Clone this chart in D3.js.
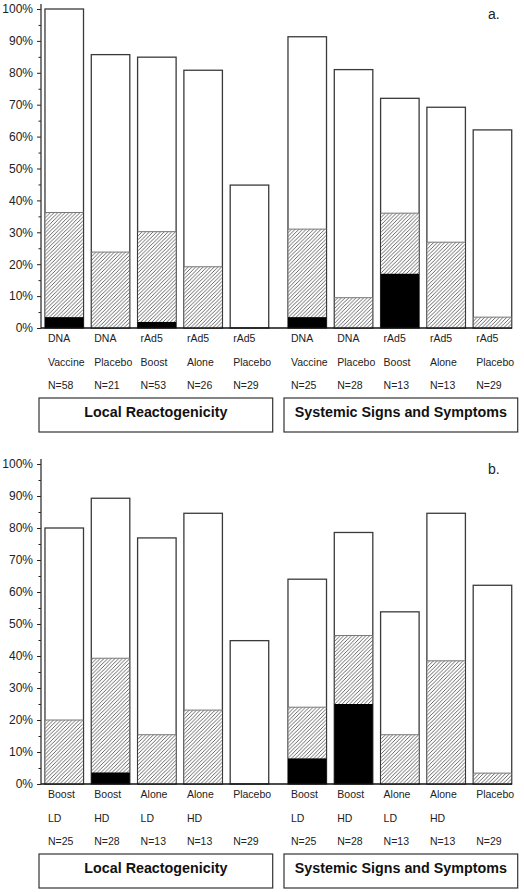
<!DOCTYPE html>
<html>
<head>
<meta charset="utf-8">
<script src="https://cdn.jsdelivr.net/npm/d3@7"></script>
<style>
html,body{margin:0;padding:0;background:#fff;}
svg{display:block;font-family:"Liberation Sans",Arial,Helvetica,sans-serif;}
</style>
</head>
<body>
<svg id="chart" width="524" height="892"></svg>
<script>
// ---- data ----
const groups = ["Local Reactogenicity", "Systemic Signs and Symptoms"];
const yTicks = [0, 10, 20, 30, 40, 50, 60, 70, 80, 90, 100];

// Panel a
const aLine1 = ["DNA", "DNA", "rAd5", "rAd5", "rAd5"];
const aLine2 = ["Vaccine", "Placebo", "Boost", "Alone", "Placebo"];
const aLocalN = ["N=58", "N=21", "N=53", "N=26", "N=29"];
const aSystemicN = ["N=25", "N=28", "N=13", "N=13", "N=29"];
const aLocalAny = [100, 85.7, 84.9, 80.8, 44.8];
const aLocalModerate = [36.2, 23.8, 30.2, 19.2, 0];
const aLocalSevere = [3.4, 0, 1.9, 0, 0];
const aSystemicAny = [91.3, 81, 72, 69.2, 62.1];
const aSystemicModerate = [31, 9.5, 36, 26.9, 3.4];
const aSystemicSevere = [3.4, 0, 17, 0, 0];

// Panel b
const bLine1 = ["Boost", "Boost", "Alone", "Alone", "Placebo"];
const bLine2 = ["LD", "HD", "LD", "HD", ""];
const bLocalN = ["N=25", "N=28", "N=13", "N=13", "N=29"];
const bSystemicN = ["N=25", "N=28", "N=13", "N=13", "N=29"];
const bLocalAny = [80, 89.3, 76.9, 84.6, 44.8];
const bLocalModerate = [20, 39.3, 15.4, 23.1, 0];
const bLocalSevere = [0, 3.6, 0, 0, 0];
const bSystemicAny = [64, 78.6, 53.8, 84.6, 62.1];
const bSystemicModerate = [24, 46.4, 15.4, 38.5, 3.4];
const bSystemicSevere = [8, 25, 0, 0, 0];

// ---- build ----
const svg = d3.select("#chart");
const defs = svg.append("defs");
const pat = defs.append("pattern")
  .attr("id", "hatch").attr("patternUnits", "userSpaceOnUse")
  .attr("width", 3.7).attr("height", 3.7);
pat.append("rect").attr("width", 3.7).attr("height", 3.7).attr("fill", "#fff");
pat.append("path")
  .attr("d", "M-1,1 L1,-1 M0,3.7 L3.7,0 M2.7,4.7 L4.7,2.7")
  .attr("stroke", "#333").attr("stroke-width", 0.75);

const font = "\"Liberation Sans\",Arial,Helvetica,sans-serif";

const xGroup = d3.scaleBand().domain(groups).range([41, 515.7]).paddingInner(0.0465).paddingOuter(0);
const xBar = d3.scaleBand().domain(d3.range(5)).range([0, xGroup.bandwidth()])
  .paddingInner(0.168).paddingOuter(0.086);

const panels = [
  { label: "a.", y0: 328, y1: 9,
    line1: aLine1, line2: aLine2,
    series: [
      { n: aLocalN, any: aLocalAny, mod: aLocalModerate, sev: aLocalSevere },
      { n: aSystemicN, any: aSystemicAny, mod: aSystemicModerate, sev: aSystemicSevere }
    ] },
  { label: "b.", y0: 784, y1: 464,
    line1: bLine1, line2: bLine2,
    series: [
      { n: bLocalN, any: bLocalAny, mod: bLocalModerate, sev: bLocalSevere },
      { n: bSystemicN, any: bSystemicAny, mod: bSystemicModerate, sev: bSystemicSevere }
    ] }
];

panels.forEach(p => {
  const y = d3.scaleLinear().domain([0, 100]).range([p.y0, p.y1]);
  const g = svg.append("g");

  // y axis: major ticks with labels
  const ax = g.append("g").attr("transform", "translate(41,0)")
    .call(d3.axisLeft(y).tickValues(yTicks).tickFormat(d => d + "%").tickSize(4).tickPadding(4).tickSizeOuter(0));
  ax.select(".domain").remove();
  ax.selectAll(".tick line").attr("stroke", "#222").attr("stroke-width", 1);
  ax.selectAll(".tick text").attr("font-size", 12).attr("font-family", font).attr("fill", "#222");
  // minor ticks
  const ax2 = g.append("g").attr("transform", "translate(41,0)")
    .call(d3.axisLeft(y).tickValues(d3.range(5, 100, 10)).tickFormat("").tickSize(2.5).tickSizeOuter(0));
  ax2.select(".domain").remove();
  ax2.selectAll(".tick line").attr("stroke", "#222").attr("stroke-width", 1);
  // axis line
  g.append("line").attr("x1", 41).attr("x2", 41).attr("y1", y(0)).attr("y2", y(100) - 5)
    .attr("stroke", "#333").attr("stroke-width", 1.3);

  p.series.forEach((s, gi) => {
    const gx = xGroup(groups[gi]);
    const gg = g.append("g").attr("transform", `translate(${gx},0)`);
    const idx = d3.range(5);
    // total bars
    gg.selectAll("rect.any").data(idx).join("rect")
      .attr("x", i => xBar(i)).attr("width", xBar.bandwidth())
      .attr("y", i => y(s.any[i])).attr("height", i => y(0) - y(s.any[i]))
      .attr("fill", "#fff").attr("stroke", "#3a3a3a").attr("stroke-width", 1.3);
    // moderate (hatched)
    gg.selectAll("rect.mod").data(idx.filter(i => s.mod[i] > 0)).join("rect")
      .attr("x", i => xBar(i) + 0.6).attr("width", xBar.bandwidth() - 1.2)
      .attr("y", i => y(s.mod[i])).attr("height", i => y(0) - y(s.mod[i]))
      .attr("fill", "url(#hatch)");
    gg.selectAll("line.mod").data(idx.filter(i => s.mod[i] > 0)).join("line")
      .attr("x1", i => xBar(i)).attr("x2", i => xBar(i) + xBar.bandwidth())
      .attr("y1", i => y(s.mod[i])).attr("y2", i => y(s.mod[i]))
      .attr("stroke", "#777").attr("stroke-width", 1);
    // severe (black)
    gg.selectAll("rect.sev").data(idx.filter(i => s.sev[i] > 0)).join("rect")
      .attr("x", i => xBar(i)).attr("width", xBar.bandwidth())
      .attr("y", i => y(s.sev[i])).attr("height", i => y(0) - y(s.sev[i]))
      .attr("fill", "#000");
    // labels
    const lab = gg.selectAll("g.lab").data(idx).join("g")
      .attr("transform", i => `translate(${xBar(i) + 3},${y(0)})`)
      .attr("font-size", 10.5).attr("font-family", font).attr("fill", "#222");
    lab.append("text").attr("y", 14).text(i => p.line1[i]);
    lab.append("text").attr("y", 37.5).text(i => p.line2[i]);
    lab.append("text").attr("y", 61).text(i => s.n[i]);
    // group box
    const bx0 = gi === 0 ? -2 : 0;
    const bx1 = gi === 0 ? xGroup.bandwidth() : xGroup.bandwidth() + 2;
    gg.append("rect").attr("x", bx0).attr("width", bx1 - bx0)
      .attr("y", y(0) + 70).attr("height", 34)
      .attr("fill", "none").attr("stroke", "#333").attr("stroke-width", 1.2);
    gg.append("text").attr("x", (bx0 + bx1) / 2).attr("y", y(0) + 70 + 19)
      .attr("text-anchor", "middle").attr("font-size", 14.3).attr("font-weight", "bold")
      .attr("font-family", font).attr("fill", "#111").text(groups[gi]);
  });

  // x baseline
  g.append("line").attr("x1", 41).attr("x2", 512).attr("y1", y(0)).attr("y2", y(0))
    .attr("stroke", "#111").attr("stroke-width", 1.3);

  // panel label
  g.append("text").attr("x", 488).attr("y", y(100) + 10)
    .attr("font-size", 14).attr("font-family", font).attr("fill", "#222").text(p.label);
});
</script>
</body>
</html>
